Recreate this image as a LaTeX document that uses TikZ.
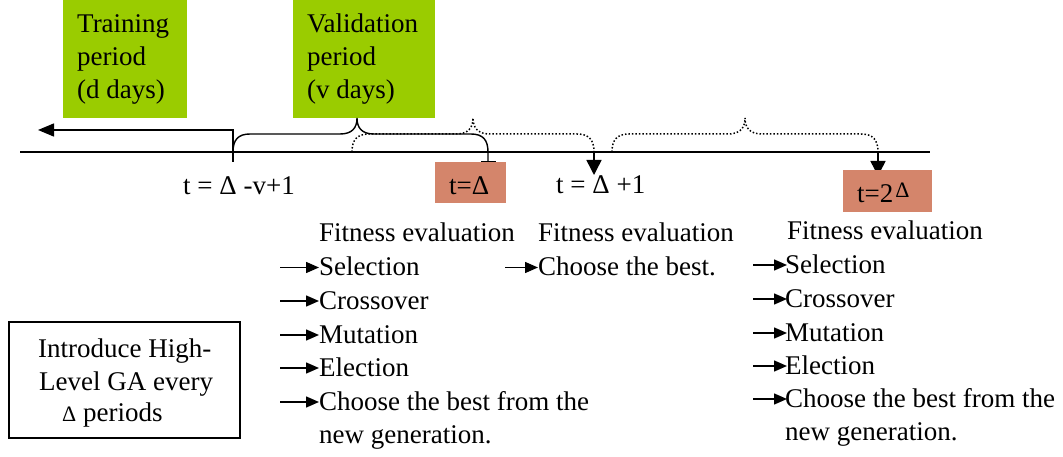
\documentclass[tikz,border=0pt]{standalone}
\usepackage{fontspec}
\setmainfont{Liberation Serif}
\newfontfamily\timesfont{Liberation Serif}
\usetikzlibrary{arrows.meta}
\definecolor{periodgreen}{RGB}{154,204,0}
\definecolor{tickred}{RGB}{212,133,107}
\begin{document}
\begin{tikzpicture}[x=1pt,y=-1pt,
  txt/.style={font=\timesfont\fontsize{27}{32}\selectfont, inner sep=0pt, anchor=base west},
  period/.style={fill=periodgreen, draw=none},
  tickbox/.style={fill=tickred, draw=none},
  axis/.style={line width=1.5pt},
  brace/.style={line width=1.4pt},
  dbrace/.style={line width=1.5pt, dotted},
  bigtip/.style={-{Triangle[length=15pt,width=15pt]}, line width=1.5pt},
  steparrow/.style={-{Triangle[length=13pt,width=11pt]}, line width=1.5pt}]
\useasboundingbox (0,0) rectangle (1063,457);

% period boxes
\fill[period] (63,0) rectangle (187,118);
\fill[period] (293,0) rectangle (435,118);
\node[txt] (tr1) at (77,33) {Training};
\node[txt] (tr2) at (77,66) {period};
\node[txt] (tr3) at (77,99) {(d days)};
\node[txt] (va1) at (307,33) {Validation};
\node[txt] (va2) at (307,66) {period};
\node[txt] (va3) at (307,99) {(v days)};

% time axis
\coordinate (axL) at (20,152);
\coordinate (axR) at (930,152);
\draw[axis] (axL) -- (axR);

% arrow back into the training period
\coordinate (trS) at (233,162);
\coordinate (trC) at (233,130);
\coordinate (trE) at (38,130);
\draw[line width=1.5pt,-{Triangle[length=16pt,width=13pt]}] (trS) -- (trC) -- (trE);

% validation window brace (solid)
\coordinate (vb0) at (233,152);
\coordinate (vbT) at (357,118);
\coordinate (vb1) at (488,152);
\coordinate (vbE) at (488,162);
\draw[brace, -{Bar[width=15pt]}]
  (vb0) .. controls (233,140) and (238,134) .. (250,134) -- (340,134)
  .. controls (352,134) and (357,128) .. (vbT)
  .. controls (357,128) and (362,134) .. (374,134) -- (471,134)
  .. controls (483,134) and (488,140) .. (vb1) -- (vbE);

% shifted windows (dotted braces)
\coordinate (d1a) at (352,152);
\coordinate (d1T) at (473,118);
\coordinate (d1b) at (594,152);
\draw[dbrace]
  (d1a) .. controls (352,140) and (357,134) .. (369,134) -- (456,134)
  .. controls (468,134) and (473,128) .. (d1T)
  .. controls (473,128) and (478,134) .. (490,134) -- (577,134)
  .. controls (589,134) and (594,140) .. (d1b);
\coordinate (d2a) at (612,152);
\coordinate (d2T) at (745,118);
\coordinate (d2b) at (878,152);
\draw[dbrace]
  (d2a) .. controls (612,140) and (617,134) .. (629,134) -- (728,134)
  .. controls (740,134) and (745,128) .. (d2T)
  .. controls (745,128) and (750,134) .. (762,134) -- (861,134)
  .. controls (873,134) and (878,140) .. (d2b);
\coordinate (d1E) at (594,175);
\coordinate (d2E) at (878,176);
\draw[bigtip] (d1b) -- (d1E);
\draw[bigtip] (d2b) -- (d2E);

% time labels
\node[txt] (t0) at (183,195) {t = Δ -v+1};
\fill[tickbox] (435,162) rectangle (506,203);
\node[txt] (t1) at (449,195) {t=Δ};
\node[txt] (t2) at (556,194) {t = Δ +1};
\fill[tickbox] (843,170) rectangle (932,212);
\node[txt] (t3) at (857,203) {t=2\kern2pt\raisebox{5pt}{\fontsize{22}{26}\selectfont Δ}};

% GA steps at t = Delta
\node[txt] (a0) at (319,242) {Fitness evaluation};
\node[txt] (a1) at (319,275.5) {Selection};
\node[txt] (a2) at (319,309) {Crossover};
\node[txt] (a3) at (319,343) {Mutation};
\node[txt] (a4) at (319,376) {Election};
\node[txt] (a5) at (319,410) {Choose the best from the};
\node[txt] (a6) at (319,443) {new generation.};
\foreach \y in {267.5,301,335,368,402}
  \draw[steparrow] (280,\y) -- (319,\y);

% step at t = Delta + 1
\node[txt] (b0) at (538,242) {Fitness evaluation};
\node[txt] (b1) at (538,275.5) {Choose the best.};
\draw[steparrow] (505,267.5) -- (538,267.5);

% GA steps at t = 2 Delta
\node[txt] (c0) at (787,240) {Fitness evaluation};
\node[txt] (c1) at (785,273) {Selection};
\node[txt] (c2) at (785,307) {Crossover};
\node[txt] (c3) at (785,341) {Mutation};
\node[txt] (c4) at (785,374) {Election};
\node[txt] (c5) at (785,407) {Choose the best from the};
\node[txt] (c6) at (785,440) {new generation.};
\foreach \y in {265,299,333,366,399}
  \draw[steparrow] (753,\y) -- (787,\y);

% note box
\draw[line width=1.3pt] (9,322) rectangle (240,438);
\node[txt] (n1) at (38,357) {Introduce High-};
\node[txt] (n2) at (39,390) {Level GA every};
\node[txt] (n3) at (62,421) {{\fontsize{22}{26}\selectfont Δ} periods};
\end{tikzpicture}
\end{document}
